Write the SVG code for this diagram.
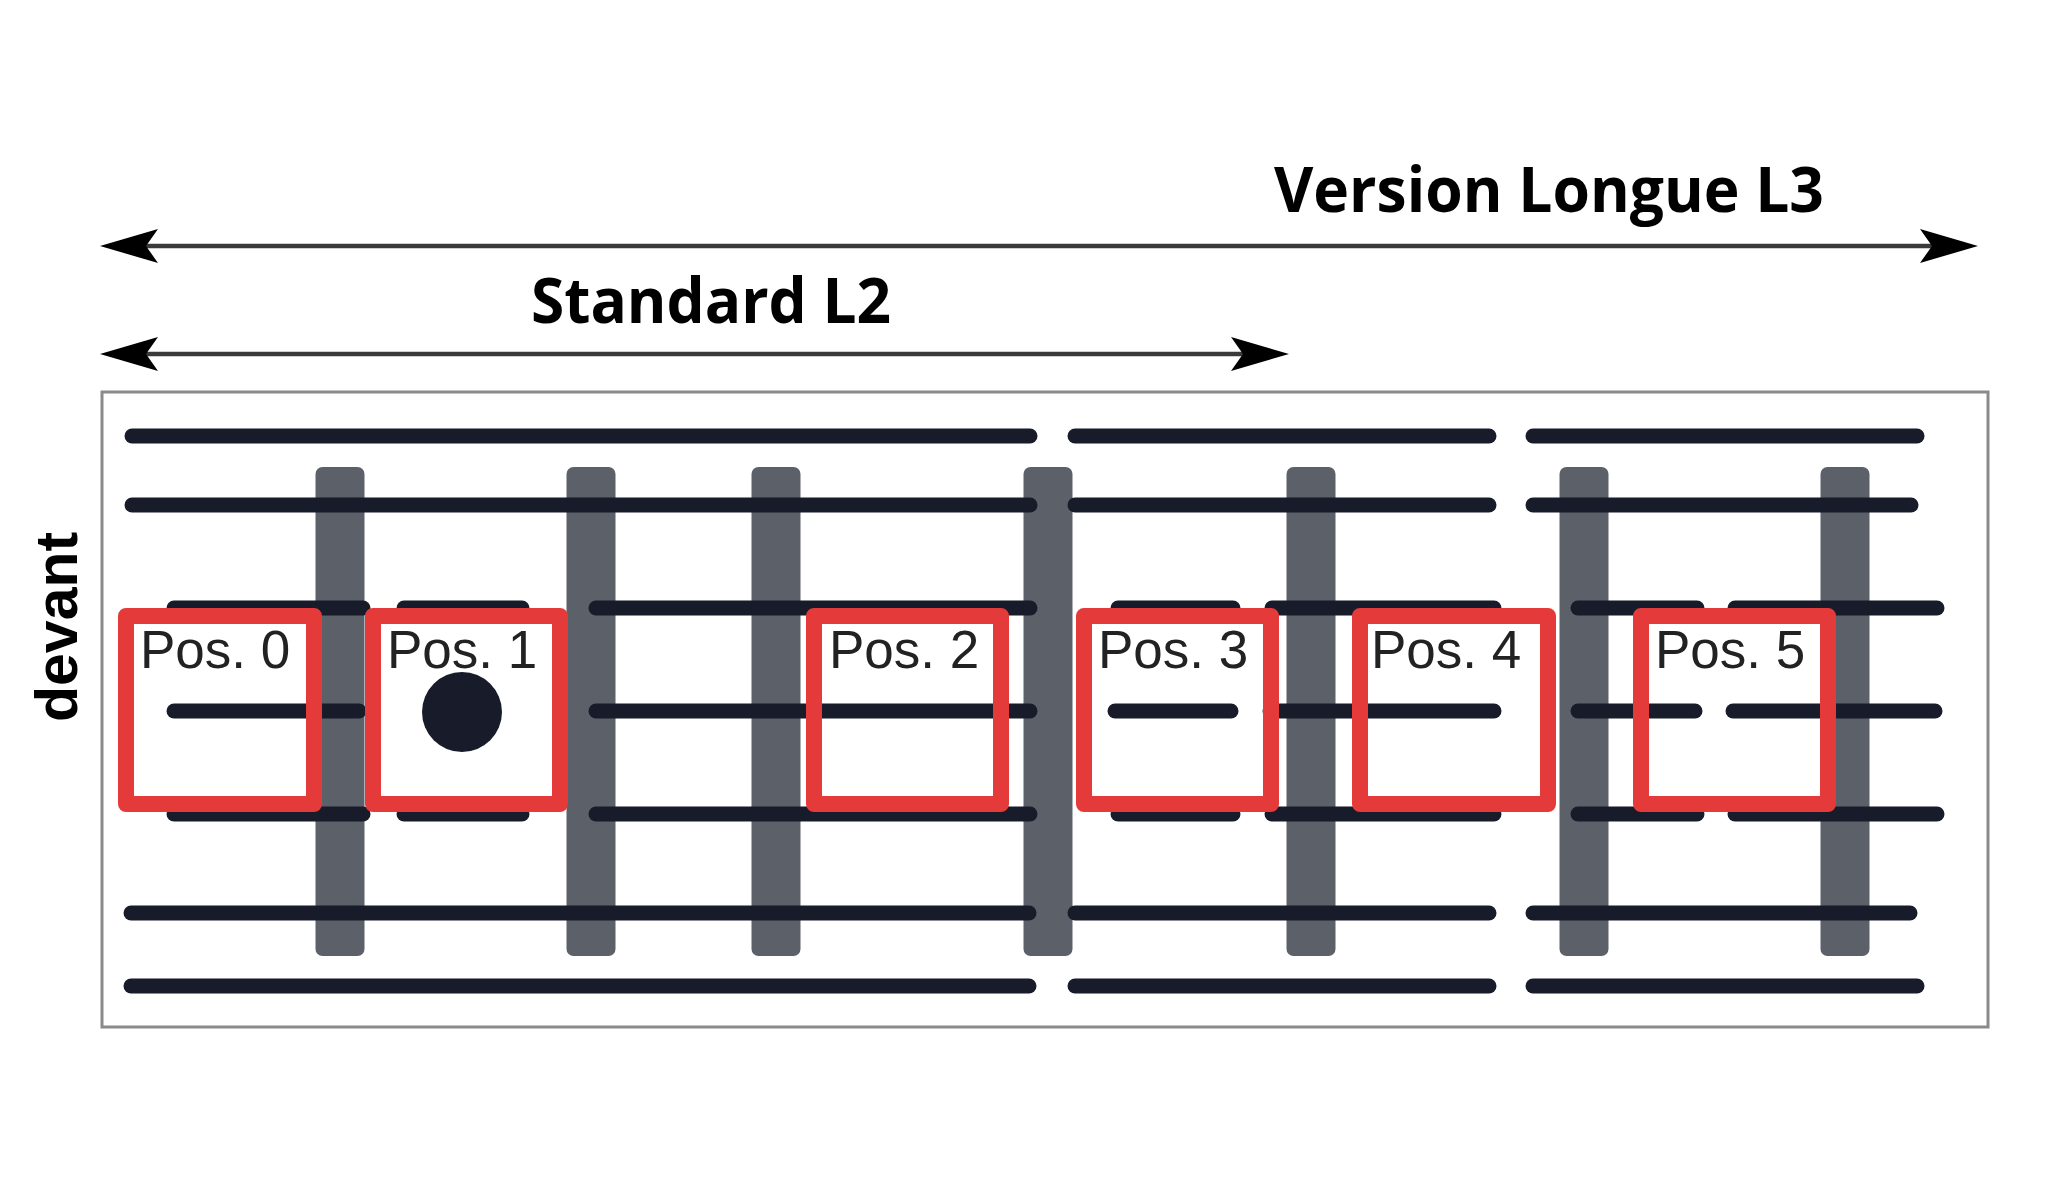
<svg xmlns="http://www.w3.org/2000/svg" width="2048" height="1198" viewBox="0 0 2048 1198">
  <style>
    .title { font-family: "Open Sans", "Noto Sans", sans-serif; font-weight: 700; font-size: 62px; fill: #000; }
    .side { font-family: "Liberation Sans", Arial, sans-serif; font-weight: 700; font-size: 59px; fill: #000; }
    .pos { font-family: "Liberation Sans", Arial, sans-serif; font-size: 53px; fill: #222; }
    .bar { fill: #5b6069; }
    .row line { stroke: #171b2a; stroke-width: 15; stroke-linecap: round; }
    .box { fill: none; stroke: #e53a3a; stroke-width: 16; stroke-linejoin: round; }
    .dim { stroke: #3a3a3a; stroke-width: 4.5; fill: none; }
  </style>
  <defs>
    <marker id="head" viewBox="0 0 60 34" markerWidth="60" markerHeight="34" refX="12" refY="17" markerUnits="userSpaceOnUse" orient="auto-start-reverse">
      <path d="M58,17 L0,0 L12,17 L0,34 Z" fill="#000"/>
    </marker>
  </defs>
  <rect width="2048" height="1198" fill="#fff"/>

  <g id="frame">
    <rect x="102" y="392" width="1886" height="635" fill="none" stroke="#8a8a8a" stroke-width="3"/>
  </g>

  <g id="bars">
    <rect class="bar" x="315.5" y="467" width="49" height="489" rx="7"/>
    <rect class="bar" x="566.5" y="467" width="49" height="489" rx="7"/>
    <rect class="bar" x="751.5" y="467" width="49" height="489" rx="7"/>
    <rect class="bar" x="1023.5" y="467" width="49" height="489" rx="7"/>
    <rect class="bar" x="1286.5" y="467" width="49" height="489" rx="7"/>
    <rect class="bar" x="1559.5" y="467" width="49" height="489" rx="7"/>
    <rect class="bar" x="1820.5" y="467" width="49" height="489" rx="7"/>
  </g>

  <g id="rows" class="row">
    <line x1="132" y1="436" x2="1030" y2="436"/>
    <line x1="1075" y1="436" x2="1489" y2="436"/>
    <line x1="1533" y1="436" x2="1917" y2="436"/>

    <line x1="132" y1="505" x2="1030" y2="505"/>
    <line x1="1075" y1="505" x2="1489" y2="505"/>
    <line x1="1533" y1="505" x2="1911" y2="505"/>

    <line x1="174" y1="608" x2="363" y2="608"/>
    <line x1="404" y1="608" x2="522" y2="608"/>
    <line x1="596" y1="608" x2="1030" y2="608"/>
    <line x1="1118" y1="608" x2="1233" y2="608"/>
    <line x1="1272" y1="608" x2="1494" y2="608"/>
    <line x1="1578" y1="608" x2="1697" y2="608"/>
    <line x1="1735" y1="608" x2="1937" y2="608"/>

    <line x1="174" y1="711" x2="359" y2="711"/>
    <line x1="596" y1="711" x2="1030" y2="711"/>
    <line x1="1115" y1="711" x2="1231" y2="711"/>
    <line x1="1270" y1="711" x2="1494" y2="711"/>
    <line x1="1578" y1="711" x2="1695" y2="711"/>
    <line x1="1733" y1="711" x2="1935" y2="711"/>

    <line x1="174" y1="814" x2="363" y2="814"/>
    <line x1="404" y1="814" x2="522" y2="814"/>
    <line x1="596" y1="814" x2="1030" y2="814"/>
    <line x1="1118" y1="814" x2="1233" y2="814"/>
    <line x1="1272" y1="814" x2="1494" y2="814"/>
    <line x1="1578" y1="814" x2="1697" y2="814"/>
    <line x1="1735" y1="814" x2="1937" y2="814"/>

    <line x1="131" y1="913" x2="1029" y2="913"/>
    <line x1="1075" y1="913" x2="1489" y2="913"/>
    <line x1="1533" y1="913" x2="1910" y2="913"/>

    <line x1="131" y1="986" x2="1029" y2="986"/>
    <line x1="1075" y1="986" x2="1489" y2="986"/>
    <line x1="1533" y1="986" x2="1917" y2="986"/>
  </g>

  <g id="dot">
    <circle cx="462" cy="712" r="40" fill="#171b2a"/>
  </g>

  <g id="pos0">
    <rect class="box" x="126" y="616" width="188" height="188"/>
    <text class="pos" x="140" y="668">Pos. 0</text>
  </g>
  <g id="pos1">
    <rect class="box" x="373" y="616" width="187" height="188"/>
    <text class="pos" x="387" y="668">Pos. 1</text>
  </g>
  <g id="pos2">
    <rect class="box" x="814" y="616" width="187" height="188"/>
    <text class="pos" x="829" y="668">Pos. 2</text>
  </g>
  <g id="pos3">
    <rect class="box" x="1084" y="616" width="187" height="188"/>
    <text class="pos" x="1098" y="668">Pos. 3</text>
  </g>
  <g id="pos4">
    <rect class="box" x="1360" y="616" width="188" height="188"/>
    <text class="pos" x="1371" y="668">Pos. 4</text>
  </g>
  <g id="pos5">
    <rect class="box" x="1641" y="616" width="187" height="188"/>
    <text class="pos" x="1655" y="668">Pos. 5</text>
  </g>

  <g id="connectors">
    <line class="dim" x1="146" y1="246" x2="1932" y2="246" marker-start="url(#head)" marker-end="url(#head)"/>
    <line class="dim" x1="146" y1="354" x2="1243" y2="354" marker-start="url(#head)" marker-end="url(#head)"/>
  </g>

  <g id="labels">
    <text class="title" x="1274" y="212" textLength="550" lengthAdjust="spacingAndGlyphs">Version Longue L3</text>
    <text class="title" x="531" y="323" textLength="360" lengthAdjust="spacingAndGlyphs">Standard L2</text>
    <text class="side" transform="translate(77,722) rotate(-90)">devant</text>
  </g>
</svg>
